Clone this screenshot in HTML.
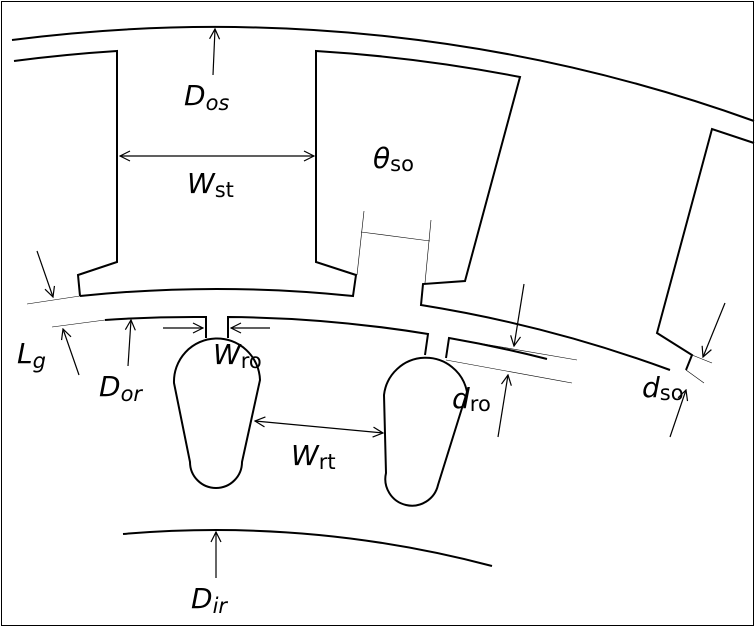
<!DOCTYPE html>
<html><head><meta charset="utf-8"><style>
html,body{margin:0;padding:0;background:#fff;width:755px;height:627px;overflow:hidden}
svg{display:block}
text{font-family:"DejaVu Sans","Liberation Sans",sans-serif;fill:#000}
.lab{font-size:28px}
.sub{font-size:21px}
</style></head><body>
<svg width="755" height="627" viewBox="0 0 755 627">
<defs>
<marker id="ah" viewBox="0 0 12 12" refX="11" refY="6" markerWidth="12" markerHeight="12" markerUnits="userSpaceOnUse" orient="auto-start-reverse">
<path d="M1,1 L11,6 L1,11" fill="none" stroke="#000" stroke-width="1.2"/>
</marker>
</defs>
<rect x="1.5" y="1.5" width="752" height="624" fill="#fff" stroke="#000" stroke-width="1"/>
<g fill="none" stroke="#000" stroke-width="2">
<path d="M12,40 A1591,1591 0 0 1 754,121"/>
<path d="M14,61 A1570,1570 0 0 1 117,51 L117,262 L78,275 L80,296"/>
<path d="M80,296 A1329,1329 0 0 1 353,296 L356,275 L316,262 L316,51 A1570,1570 0 0 1 520,77 L465,281 L423,284 L421,305 A1329,1329 0 0 1 670,370"/>
<path d="M754,143 L712,129 L657,333 L692,355 L686,370"/>
<path d="M105,320 A1301,1301 0 0 1 206,317 L206,338"/>
<path d="M228,338 L228,317 A1301,1301 0 0 1 428,334 L425,355"/>
<path d="M446,358 L449,338 A1301,1301 0 0 1 547,359"/>
<path d="M174,383 A43,43 0 0 1 260,380 L242,462 A26,26 0 0 1 190,462 Z"/>
<path d="M384,395 A42,42 0 0 1 467,392 L438,485 A26,26 0 0 1 386,473 Z"/>
<path d="M123,534 A1087,1087 0 0 1 492,566"/>
</g>
<g fill="none" stroke="#000" stroke-width="0.6">
<line x1="27" y1="304" x2="80" y2="296"/>
<line x1="52" y1="327" x2="105" y2="320"/>
<line x1="364" y1="211" x2="357" y2="275"/>
<line x1="431" y1="220" x2="425" y2="283"/>
<line x1="361" y1="232" x2="430" y2="241"/>
<line x1="449" y1="338" x2="577" y2="360"/>
<line x1="446" y1="360" x2="572" y2="383"/>
<line x1="692" y1="355" x2="712" y2="363"/>
<line x1="686" y1="370" x2="704" y2="383"/>
</g>
<g fill="none" stroke="#000" stroke-width="1.2">
<line x1="213" y1="75" x2="215" y2="29" marker-end="url(#ah)"/>
<line x1="120" y1="156" x2="314" y2="156" marker-start="url(#ah)" marker-end="url(#ah)"/>
<line x1="37" y1="251" x2="53" y2="297" marker-end="url(#ah)"/>
<line x1="79" y1="375" x2="63" y2="329" marker-end="url(#ah)"/>
<line x1="128" y1="366" x2="131" y2="320" marker-end="url(#ah)"/>
<line x1="163" y1="328" x2="203" y2="328" marker-end="url(#ah)"/>
<line x1="270" y1="328" x2="231" y2="328" marker-end="url(#ah)"/>
<line x1="255" y1="421" x2="383" y2="433" marker-start="url(#ah)" marker-end="url(#ah)"/>
<line x1="524" y1="284" x2="514" y2="346" marker-end="url(#ah)"/>
<line x1="498" y1="437" x2="508" y2="375" marker-end="url(#ah)"/>
<line x1="725" y1="303" x2="703" y2="357" marker-end="url(#ah)"/>
<line x1="670" y1="437" x2="686" y2="390" marker-end="url(#ah)"/>
<line x1="216" y1="578" x2="216" y2="532" marker-end="url(#ah)"/>
</g>
<text class="lab" x="184" y="105"><tspan font-style="italic">D</tspan><tspan class="sub" font-style="italic" dy="5">os</tspan></text>
<text class="lab" x="187" y="193"><tspan font-style="italic">W</tspan><tspan class="sub" dy="4">st</tspan></text>
<text class="lab" x="373" y="168"><tspan font-style="italic">θ</tspan><tspan class="sub" dy="3">so</tspan></text>
<text class="lab" x="17" y="363"><tspan font-style="italic">L</tspan><tspan class="sub" font-style="italic" dy="5">g</tspan></text>
<text class="lab" x="99" y="396"><tspan font-style="italic">D</tspan><tspan class="sub" font-style="italic" dy="5">or</tspan></text>
<text class="lab" x="213" y="364"><tspan font-style="italic">W</tspan><tspan class="sub" dy="4">ro</tspan></text>
<text class="lab" x="291" y="465"><tspan font-style="italic">W</tspan><tspan class="sub" dy="4">rt</tspan></text>
<text class="lab" x="452" y="408"><tspan font-style="italic">d</tspan><tspan class="sub" dy="3">ro</tspan></text>
<text class="lab" x="642" y="397"><tspan font-style="italic">d</tspan><tspan class="sub" dy="3">so</tspan></text>
<text class="lab" x="191" y="608"><tspan font-style="italic">D</tspan><tspan class="sub" font-style="italic" dy="5">ir</tspan></text>
</svg>
</body></html>
